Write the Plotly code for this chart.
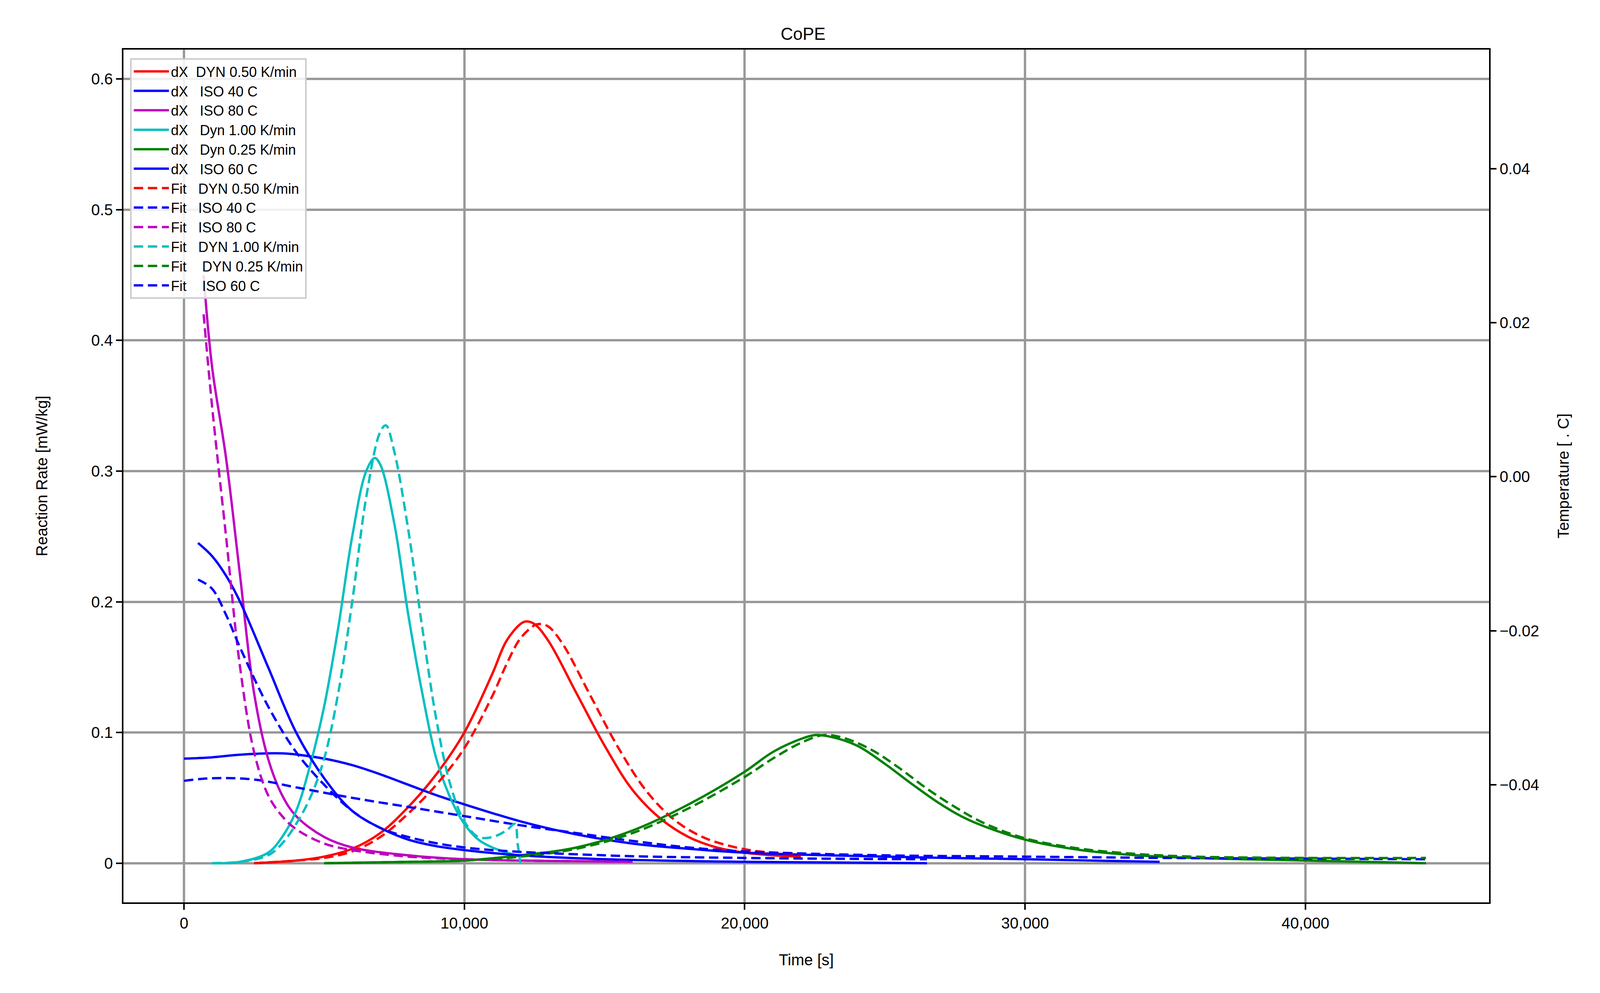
import plotly.graph_objects as go

NB = "\u00a0"
# Data (time [s], rate)
red_x = [2500, 4000, 5000, 6000, 7000, 8000, 9000, 10000, 11000, 11500, 12000, 12200, 12500, 13000, 14000, 15000, 16000, 17000, 18000, 19000, 20000, 21000, 22000]
red_y = [0, 0.002, 0.005, 0.011, 0.023, 0.043, 0.068, 0.1, 0.145, 0.17, 0.183, 0.185, 0.183, 0.17, 0.13, 0.09, 0.056, 0.034, 0.02, 0.012, 0.008, 0.006, 0.005]
redf_x = [2500, 4000, 5000, 6000, 7000, 8000, 9000, 10000, 11000, 11500, 12000, 12500, 12700, 13000, 13500, 14500, 15500, 16500, 17500, 18500, 19500, 20500, 22000]
redf_y = [0, 0.002, 0.004, 0.009, 0.02, 0.038, 0.06, 0.088, 0.128, 0.152, 0.172, 0.182, 0.183, 0.181, 0.168, 0.128, 0.088, 0.055, 0.033, 0.02, 0.013, 0.009, 0.007]

iso40_x = [0, 1000, 2000, 3500, 5000, 6000, 7000, 8000, 9000, 10000, 12000, 14000, 16000, 18000, 20000, 25000, 30000, 34800]
iso40_y = [0.08, 0.081, 0.083, 0.084, 0.08, 0.075, 0.068, 0.06, 0.052, 0.045, 0.032, 0.022, 0.015, 0.011, 0.008, 0.005, 0.003, 0.001]
iso40f_x = [0, 1000, 2500, 4000, 6000, 8000, 10000, 12000, 14000, 16000, 18000, 20000, 25000, 30000, 35000, 40000, 44300]
iso40f_y = [0.063, 0.065, 0.064, 0.058, 0.05, 0.043, 0.036, 0.029, 0.023, 0.017, 0.012, 0.009, 0.006, 0.005, 0.004, 0.0035, 0.003]

iso80_x = [700, 1000, 1500, 2000, 2500, 3000, 3500, 4000, 5000, 6000, 8000, 10000, 12000, 14000, 16000]
iso80_y = [0.45, 0.38, 0.31, 0.22, 0.13, 0.08, 0.052, 0.036, 0.02, 0.012, 0.006, 0.003, 0.002, 0.0015, 0.001]
iso80f_x = [700, 1000, 1500, 2000, 2500, 3000, 3500, 4000, 5000, 6000, 8000, 10000, 12000, 14000, 16000]
iso80f_y = [0.42, 0.35, 0.25, 0.15, 0.085, 0.052, 0.036, 0.026, 0.015, 0.01, 0.005, 0.003, 0.002, 0.0015, 0.001]

dyn1_x = [1000, 2000, 3000, 3500, 4000, 4500, 5000, 5500, 6000, 6500, 6800, 7000, 7500, 8000, 8500, 9000, 9500, 10000, 10500, 11000, 12000]
dyn1_y = [0, 0.001, 0.008, 0.02, 0.04, 0.075, 0.12, 0.18, 0.25, 0.3, 0.31, 0.305, 0.26, 0.19, 0.13, 0.08, 0.05, 0.03, 0.018, 0.012, 0.005]
dyn1f_x = [1000, 2000, 3000, 3500, 4000, 4500, 5000, 5500, 6000, 6500, 7000, 7200, 7500, 8000, 8500, 9000, 9500, 10000, 10500, 11000, 11500, 11800, 11900, 12000]
dyn1f_y = [0, 0.001, 0.006, 0.015, 0.03, 0.05, 0.08, 0.13, 0.2, 0.28, 0.33, 0.335, 0.315, 0.255, 0.18, 0.11, 0.06, 0.032, 0.02, 0.02, 0.025, 0.03, 0.015, 0]

dyn025_x = [5000, 8000, 10000, 12000, 14000, 16000, 18000, 20000, 21000, 22000, 22500, 23000, 24000, 25000, 26000, 27000, 28000, 30000, 32000, 34000, 36000, 40000, 44300]
dyn025_y = [0, 0.001, 0.002, 0.006, 0.012, 0.025, 0.045, 0.07, 0.085, 0.095, 0.098, 0.097, 0.09, 0.076, 0.06, 0.045, 0.033, 0.018, 0.01, 0.006, 0.004, 0.002, 0.0]
dyn025f_x = [5000, 8000, 10000, 12000, 14000, 16000, 18000, 20000, 21000, 22000, 22800, 23500, 24500, 25500, 26500, 27500, 28500, 30000, 32000, 34000, 36000, 40000, 44300]
dyn025f_y = [0, 0.001, 0.002, 0.005, 0.011, 0.023, 0.042, 0.066, 0.08, 0.092, 0.098, 0.096, 0.087, 0.073, 0.057, 0.043, 0.031, 0.019, 0.011, 0.007, 0.005, 0.004, 0.004]

iso60_x = [500, 1000, 1500, 2000, 3000, 4000, 5000, 6000, 7000, 8000, 9000, 10000, 12000, 15000, 20000, 26500]
iso60_y = [0.245, 0.235, 0.22, 0.2, 0.15, 0.1, 0.065, 0.04, 0.027, 0.018, 0.013, 0.01, 0.006, 0.003, 0.001, 0.0]
iso60f_x = [500, 1000, 1500, 2000, 3000, 4000, 5000, 6000, 7000, 8000, 10000, 15000, 20000, 26500]
iso60f_y = [0.217, 0.21, 0.19, 0.165, 0.12, 0.085, 0.06, 0.04, 0.027, 0.02, 0.012, 0.006, 0.004, 0.003]

series = [
    ("dX" + NB*2 + "DYN 0.50 K/min", red_x, red_y, "#ff0000", "solid"),
    ("dX" + NB*3 + "ISO 40 C", iso40_x, iso40_y, "#0000ff", "solid"),
    ("dX" + NB*3 + "ISO 80 C", iso80_x, iso80_y, "#bf00bf", "solid"),
    ("dX" + NB*3 + "Dyn 1.00 K/min", dyn1_x, dyn1_y, "#00bfbf", "solid"),
    ("dX" + NB*3 + "Dyn 0.25 K/min", dyn025_x, dyn025_y, "#008000", "solid"),
    ("dX" + NB*3 + "ISO 60 C", iso60_x, iso60_y, "#0000ff", "solid"),
    ("Fit" + NB*3 + "DYN 0.50 K/min", redf_x, redf_y, "#ff0000", "dash"),
    ("Fit" + NB*3 + "ISO 40 C", iso40f_x, iso40f_y, "#0000ff", "dash"),
    ("Fit" + NB*3 + "ISO 80 C", iso80f_x, iso80f_y, "#bf00bf", "dash"),
    ("Fit" + NB*3 + "DYN 1.00 K/min", dyn1f_x, dyn1f_y, "#00bfbf", "dash"),
    ("Fit" + NB*4 + "DYN 0.25 K/min", dyn025f_x, dyn025f_y, "#008000", "dash"),
    ("Fit" + NB*4 + "ISO 60 C", iso60f_x, iso60f_y, "#0000ff", "dash"),
]

fig = go.Figure()
for name, x, y, c, d in series:
    fig.add_trace(go.Scatter(x=x, y=y, name=name, mode="lines", line_shape="spline",
                             line=dict(color=c, width=6, dash="24px,12px" if d == "dash" else "solid")))
fig.add_trace(go.Scatter(x=[None], y=[None], yaxis="y2", showlegend=False, hoverinfo="skip"))

F = "Liberation Sans, Arial, sans-serif"
ax = dict(showline=True, linecolor="black", linewidth=4, ticks="outside", ticklen=15, tickwidth=4,
          tickcolor="black", showgrid=True, gridcolor="#999999", gridwidth=6, zeroline=False,
          tickfont=dict(size=40, color="black"))
fig.update_layout(
    autosize=True, plot_bgcolor="white", paper_bgcolor="white",
    font=dict(family=F, size=40, color="black"),
    margin=dict(l=308, r=292, t=119, b=240),
    title=dict(text="CoPE", x=0.5, xanchor="center", y=0.975, font=dict(size=44)),
    xaxis=dict(ax, range=[-2160, 46550], tickvals=[0, 10000, 20000, 30000, 40000], tickformat=",",
               mirror=True, title=dict(text="Time [s]", standoff=60, font=dict(size=40))),
    yaxis=dict(ax, range=[-0.030, 0.6225], tickvals=[0, 0.1, 0.2, 0.3, 0.4, 0.5, 0.6],
               ticktext=["0", "0.1", "0.2", "0.3", "0.4", "0.5", "0.6"],
               title=dict(text="Reaction Rate [mW/kg]", standoff=100, font=dict(size=40))),
    yaxis2=dict(ax, overlaying="y", side="right", range=[-0.0553, 0.0555], showgrid=False,
                tickvals=[-0.04, -0.02, 0, 0.02, 0.04], tickformat=".2f",
                title=dict(text="Temperature [ . C]", standoff=50, font=dict(size=40))),
    legend=dict(x=0.005, y=0.99, xanchor="left", yanchor="top", bgcolor="rgba(255,255,255,0.85)",
                bordercolor="#cccccc", borderwidth=4, font=dict(size=36), itemwidth=90),
)
fig.write_html("out.html", default_width="100vw", default_height="100vh")
